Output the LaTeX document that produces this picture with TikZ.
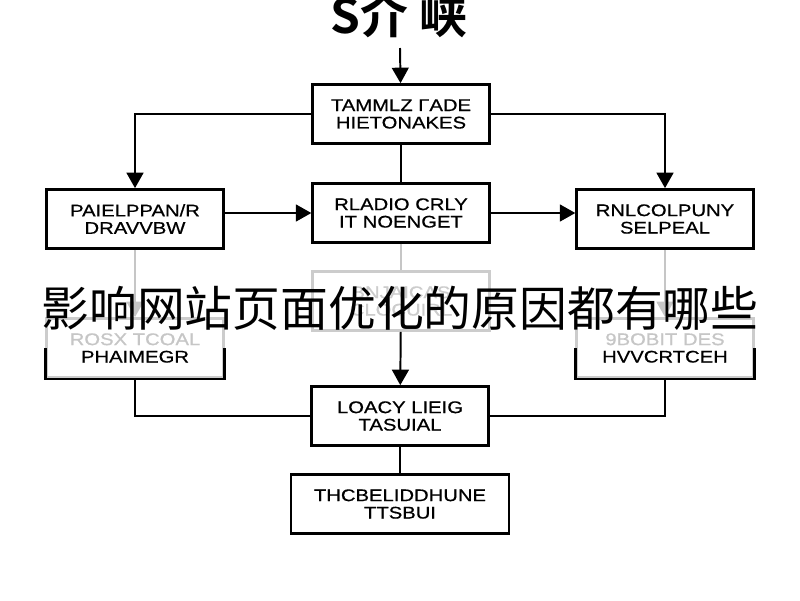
\documentclass[tikz,border=0pt]{standalone}
\usepackage{fontspec}
\setmainfont{Liberation Sans}
\newfontfamily\boxfont[FakeStretch=1.2,FakeBold=0.6]{Liberation Sans}
\newfontfamily\cjk{Noto Sans CJK SC}
\newfontfamily\cjkbf{Noto Sans CJK SC Bold}
\usetikzlibrary{arrows.meta}

\begin{document}
\begin{tikzpicture}[x=0.025cm,y=-0.025cm,
  box/.style={draw,line width=1.8pt,align=center,inner sep=0pt,
    minimum width=4.42cm,minimum height=1.48cm,font=\boxfont\fontsize{12}{12.4}\selectfont},
  faded/.style={box,draw=gray!40,text=gray!40},
  link/.style={line width=1.4pt},
  arr/.style={link,-{Triangle[width=12pt,length=11pt]}}]
\useasboundingbox (0,0) rectangle (800,600);
\fill[white] (0,0) rectangle (800,600);

\node[font=\cjkbf\fontsize{34}{34}\selectfont] (head) at (399,15) {S介 峡};
\coordinate (headtip) at (400,48);

\node[box] (top) at (401,114) {TAMMLZ ΓADE\\HIETONAKES};
\node[box] (left) at (135,219) {PAIELPPAN/R\\DRAVVBW};
\node[box] (mid) at (401,213) {RLADIO CRLY\\IT NOENGET};
\node[box] (right) at (665,219) {RNLCOLPUNY\\SELPEAL};

\node[faded] (fade) at (401,301) {BNJAICAS\\CLOCUIRL};
\node[faded,text=black] (lowl) at (135,348) {{\color{gray!45}ROSX TCOAL}\\PHAIMEGR};
\node[faded,text=black] (lowr) at (665,348) {{\color{gray!45}9BOBIT DES}\\HVVCRTCEH};
\draw[line width=1.8pt] (lowl.west) -- (lowl.south west) -- (lowl.south east) -- (lowl.east);
\draw[line width=1.8pt] (lowr.west) -- (lowr.south west) -- (lowr.south east) -- (lowr.east);

\node[box] (bmid) at (400,416) {LOACY LIEIG\\TASUIAL};
\node[box,minimum width=5.45cm] (bot) at (400,504) {THCBELIDDHUNE\\TTSBUI};

\draw[arr] (headtip) -- (top);
\draw[arr] (top.west) -| (left.north);
\draw[arr] (top.east) -| (right.north);
\draw[link] (top) -- (mid);
\draw[arr] (left.east |- mid.west) -- (mid.west);
\draw[arr] (mid.east) -- (right.west |- mid.east);

\draw[arr,draw=gray!45] (left) -- (lowl);
\draw[arr,draw=gray!45] (right) -- (lowr);
\draw[link,draw=gray!45] (mid) -- (fade);
\draw[arr] (fade) -- (bmid);
\draw[link] (lowl.south) |- (bmid.west);
\draw[link] (lowr.south) |- (bmid.east);
\draw[link] (bmid) -- (bot);

\node[font=\cjk\fontsize{34}{34}\selectfont] (caption) at (400,308) {影响网站页面优化的原因都有哪些};
\end{tikzpicture}
\end{document}
